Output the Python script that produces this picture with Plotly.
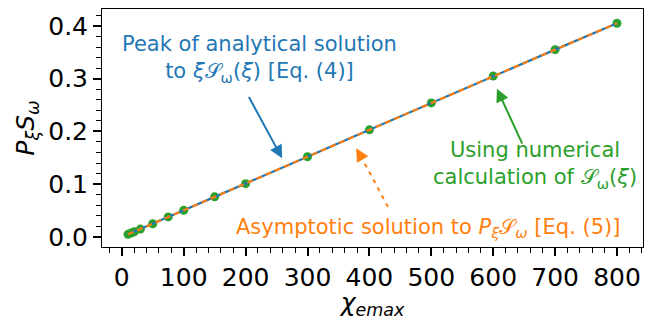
import plotly.graph_objects as go

chi_emax = [10, 15, 20, 30, 50, 75, 100, 150, 200, 300, 400, 500, 600, 700, 800]
numerical = [0.005, 0.0076, 0.010, 0.015, 0.025, 0.038, 0.0505, 0.076, 0.101, 0.152, 0.203, 0.254, 0.305, 0.355, 0.405]
analytical_peak = [0.005, 0.0076, 0.010, 0.015, 0.025, 0.038, 0.0505, 0.076, 0.101, 0.152, 0.203, 0.254, 0.305, 0.355, 0.405]
asymptotic = [0.005, 0.0076, 0.010, 0.015, 0.025, 0.038, 0.0505, 0.076, 0.101, 0.152, 0.203, 0.254, 0.305, 0.355, 0.405]

x_ticks = [0, 100, 200, 300, 400, 500, 600, 700, 800]
y_ticks = [0.0, 0.1, 0.2, 0.3, 0.4]

BLUE = "#1f77b4"
ORANGE = "#ff7f0e"
GREEN = "#2ca02c"
FONT = "DejaVu Sans"
S = "𝒮"

fig = go.Figure()
fig.add_trace(go.Scatter(x=chi_emax, y=numerical, mode="markers",
                         marker=dict(color=GREEN, size=9), showlegend=False))
fig.add_trace(go.Scatter(x=chi_emax, y=analytical_peak, mode="lines",
                         line=dict(color=BLUE, width=2.2), showlegend=False))
fig.add_trace(go.Scatter(x=chi_emax, y=asymptotic, mode="lines",
                         line=dict(color=ORANGE, width=2.2, dash="6px,4px"), showlegend=False))

ann_font = dict(family=FONT, size=21)

# blue arrow + text
fig.add_annotation(x=259, y=0.149, ax=204, ay=0.268, xref="x", yref="y", axref="x", ayref="y",
                   showarrow=True, arrowhead=2, arrowsize=1.3, arrowwidth=2, arrowcolor=BLUE, text="")
fig.add_annotation(x=223, y=0.337, xref="x", yref="y", showarrow=False, align="center",
                   text=f"Peak of analytical solution<br>to <i>ξ</i>{S}<sub>ω</sub>(<i>ξ</i>) [Eq. (4)]",
                   font=dict(color=BLUE, **ann_font))

# orange dashed arrow
fig.add_shape(type="line", x0=430, y0=0.057, x1=383, y1=0.160, xref="x", yref="y",
              line=dict(color=ORANGE, width=2, dash="4px,5px"))
fig.add_annotation(x=378.6, y=0.168, ax=384, ay=0.157, xref="x", yref="y", axref="x", ayref="y",
                   showarrow=True, arrowhead=2, arrowsize=1.3, arrowwidth=2, arrowcolor=ORANGE, text="")
fig.add_annotation(x=495, y=0.0175, xref="x", yref="y", showarrow=False,
                   text=f"Asymptotic solution to <i>P<sub>ξ</sub></i>{S}<sub><i>ω</i></sub> [Eq. (5)]",
                   font=dict(color=ORANGE, **ann_font))

# green arrow + text
fig.add_annotation(x=606, y=0.281, ax=648, ay=0.174, xref="x", yref="y", axref="x", ayref="y",
                   showarrow=True, arrowhead=2, arrowsize=1.3, arrowwidth=2, arrowcolor=GREEN, text="")
fig.add_annotation(x=668, y=0.137, xref="x", yref="y", showarrow=False, align="center",
                   text=f"Using numerical<br>calculation of {S}<sub>ω</sub>(<i>ξ</i>)",
                   font=dict(color=GREEN, **ann_font))

axis_common = dict(showline=True, linecolor="black", linewidth=1, mirror=True,
                   ticks="outside", ticklen=8, tickwidth=1.5, tickcolor="black",
                   showgrid=False, zeroline=False, automargin=False,
                   tickfont=dict(family=FONT, size=25, color="black"))

fig.update_xaxes(range=[-32, 842], tickvals=x_ticks,
                 minor=dict(dtick=20, tick0=0, ticks="outside", ticklen=5, tickwidth=1.2, tickcolor="black"),
                 title=dict(text="<i>χ<sub>emax</sub></i>", font=dict(family=FONT, size=25, color="black"), standoff=2),
                 **axis_common)
fig.update_yaxes(range=[-0.019, 0.432], tickvals=y_ticks, tickformat=".1f",
                 minor=dict(dtick=0.02, tick0=0, ticks="outside", ticklen=5, tickwidth=1.2, tickcolor="black"),
                 title=dict(text="<i>P<sub>ξ</sub>S<sub>ω</sub></i>", font=dict(family=FONT, size=25, color="black"), standoff=6),
                 **axis_common)

fig.update_layout(width=652, height=320, margin=dict(l=102, r=9, t=9, b=73),
                  plot_bgcolor="white", paper_bgcolor="white",
                  font=dict(family=FONT))

fig.write_html("out.html", config={"displayModeBar": False},
               post_script="document.body.style.margin='0';document.body.style.overflow='hidden';")
